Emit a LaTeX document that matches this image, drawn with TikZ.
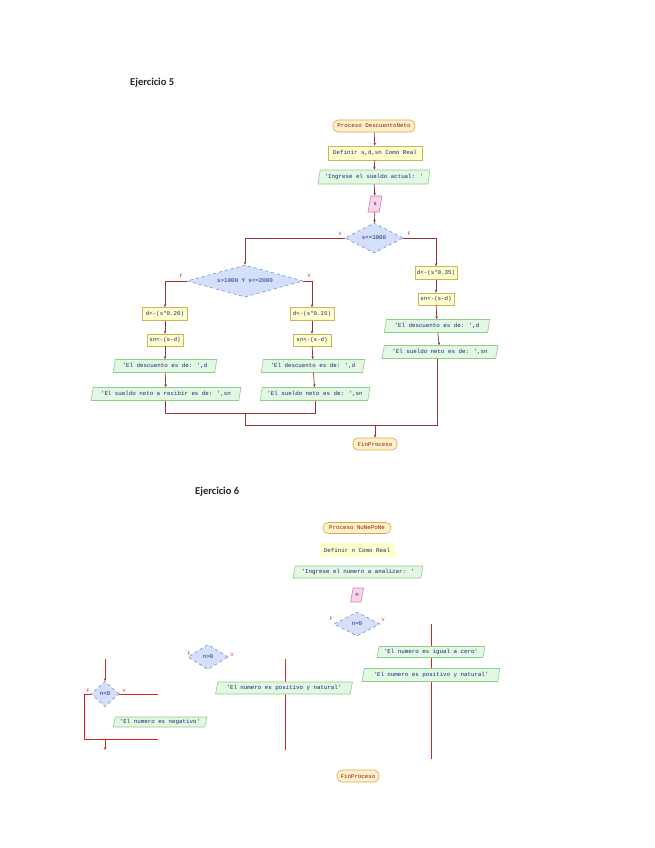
\documentclass[tikz,border=0pt]{standalone}
\usepackage{fontspec}
\setmainfont{Carlito}
\newfontfamily\diagfont{Liberation Mono}
\usetikzlibrary{shapes.geometric,arrows.meta}
\definecolor{termfill}{HTML}{FFF0C8}
\definecolor{termdraw}{HTML}{D9A850}
\definecolor{termtext}{HTML}{8B1A1A}
\definecolor{procfill}{HTML}{FFFFCC}
\definecolor{procdraw}{HTML}{C8B464}
\definecolor{iofill}{HTML}{E2F8E2}
\definecolor{iodraw}{HTML}{8CD08C}
\definecolor{pinkfill}{HTML}{F8D4EA}
\definecolor{pinkdraw}{HTML}{D080B0}
\definecolor{diafill}{HTML}{D4E0FA}
\definecolor{diadraw}{HTML}{7090D0}
\definecolor{lineA}{HTML}{993333}
\definecolor{lineB}{HTML}{DD2222}
\definecolor{txt}{HTML}{1A237E}
\tikzset{
  base/.style={font=\diagfont\fontsize{5.8}{6.5}\selectfont, text=txt, inner sep=1pt, line width=0.6pt},
  term/.style={base, rectangle, rounded corners=5pt, draw=termdraw, fill=termfill, text=termtext},
  proc/.style={base, rectangle, draw=procdraw, fill=procfill},
  io/.style={base, trapezium, trapezium left angle=75, trapezium right angle=105, trapezium stretches=true, draw=iodraw, fill=iofill},
  inp/.style={base, trapezium, trapezium left angle=70, trapezium right angle=110, trapezium stretches=true, draw=pinkdraw, fill=pinkfill},
  dec/.style={base, diamond, draw=diadraw, dashed, fill=diafill, inner sep=0pt},
  lbl/.style={font=\diagfont\fontsize{5}{5}\selectfont, inner sep=0pt},
  conA/.style={draw=lineA, line width=0.7pt},
  arrA/.style={conA, -{Stealth[length=3pt,width=2.5pt]}},
  conB/.style={draw=lineB, line width=0.8pt},
  arrB/.style={conB, -{Stealth[length=3pt,width=2.5pt]}},
  head/.style={font=\fontsize{10.5}{12}\selectfont\bfseries, text=black!85, anchor=west, inner sep=0pt}
}
\begin{document}
\begin{tikzpicture}[x=1pt,y=-1pt]
\useasboundingbox (0,0) rectangle (655,848);
\fill[white] (0,0) rectangle (655,848);

% ---------------- Ejercicio 5 ----------------
\node[head] (h5) at (130,83) {Ejercicio 5};

\node[term, minimum width=82, minimum height=12] (t1) at (374,126) {Proceso DescuentoNeto};
\node[proc, minimum width=94, minimum height=14] (t2) at (375,153) {Definir s,d,sn Como Real};
\node[io, minimum width=112, minimum height=14] (t3) at (374,177) {'Ingrese el sueldo actual: '};
\node[inp, minimum width=14, minimum height=16] (t4) at (375,204) {s};
\node[dec, aspect=2, minimum width=58, minimum height=30] (d1) at (374,238) {s<=1000};
\node[dec, aspect=3.6, minimum width=116, minimum height=32] (d2) at (245,281) {s>1000 Y s<=2000};

\node[proc, minimum width=45, minimum height=13] (a1) at (165,314) {d<-(s*0.20)};
\node[proc, minimum width=36, minimum height=12] (a2) at (165,340) {sn<-(s-d)};
\node[io, minimum width=104, minimum height=13] (a3) at (165,366) {'El descuento es de: ',d};
\node[io, minimum width=150, minimum height=13] (a4) at (166,394) {'El sueldo neto a recibir es de: ',sn};

\node[proc, minimum width=44, minimum height=13] (b1) at (312,314) {d<-(s*0.15)};
\node[proc, minimum width=38, minimum height=12] (b2) at (312,340) {sn<-(s-d)};
\node[io, minimum width=104, minimum height=13] (b3) at (313,366) {'El descuento es de: ',d};
\node[io, minimum width=110, minimum height=13] (b4) at (315,394) {'El sueldo neto es de: ',sn};

\node[proc, minimum width=42, minimum height=13] (c1) at (436,273) {d<-(s*0.35)};
\node[proc, minimum width=36, minimum height=12] (c2) at (436,299) {sn<-(s-d)};
\node[io, minimum width=106, minimum height=13] (c3) at (437,326) {'El descuento es de: ',d};
\node[io, minimum width=116, minimum height=13] (c4) at (440,352) {'El sueldo neto es de: ',sn};

\node[term, minimum width=44, minimum height=12] (fin1) at (375,444) {FinProceso};

\draw[arrA] (t1) -- (t2);
\draw[arrA] (t2) -- (t3);
\draw[arrA] (t3) -- (t4);
\draw[arrA] (t4) -- (d1);
\draw[arrA] (d1.west) -| (d2.north);
\draw[arrA] (d1.east) -| (c1.north);
\draw[arrA] (d2.west) -| (a1.north);
\draw[arrA] (d2.east) -| (b1.north);
\node[lbl, text=lineA] (l1) at (340,234) {V};
\node[lbl, text=lineA] (l2) at (409,234) {F};
\node[lbl, text=lineA] (l3) at (181,276) {F};
\node[lbl, text=lineA] (l4) at (309,276) {V};
\draw[arrA] (a1) -- (a2);
\draw[arrA] (a2) -- (a3);
\draw[arrA] (a3) -- (a4);
\draw[arrA] (b1) -- (b2);
\draw[arrA] (b2) -- (b3);
\draw[arrA] (b3) -- (b4);
\draw[arrA] (c1) -- (c2);
\draw[arrA] (c2) -- (c3);
\draw[arrA] (c3) -- (c4);
\coordinate (j1) at (165,413);
\coordinate (j2) at (245,413);
\coordinate (j3) at (245,425);
\coordinate (j4) at (375,425);
\coordinate (j5) at (437,425);
\draw[conA] (a4.south -| j1) -- (j1) -- (j1 -| b4.south) -- (b4.south);
\draw[conA] (j2) -- (j3) -- (j5) -- (c4.south -| j5);
\draw[arrA] (j4) -- (fin1);

% ---------------- Ejercicio 6 ----------------
\node[head] (h6) at (195,492) {Ejercicio 6};

\node[term, minimum width=68, minimum height=11] (e1) at (357,528) {Proceso NuNePoNe};
\node[proc, draw=none, minimum width=75, minimum height=14] (e2) at (357,550) {Definir n Como Real};
\node[io, minimum width=130, minimum height=12] (e3) at (358,572) {'Ingrese el numero a analizar: '};
\node[inp, minimum width=13, minimum height=14] (e4) at (357,595) {n};
\node[dec, aspect=1.9, minimum width=46, minimum height=24] (f1) at (357,624) {n=0};
\node[lbl, text=lineB] (m1) at (331,619) {F};
\node[lbl, text=lineB] (m2) at (383,620) {V};

\coordinate (v1a) at (431,624);
\coordinate (v1b) at (431,759);
\draw[conB] (v1a) -- (v1b);
\node[io, minimum width=108, minimum height=11] (f2) at (431,652) {'El numero es igual a cero'};
\node[io, minimum width=138, minimum height=13] (f3) at (431,675) {'El numero es positivo y natural'};

\node[dec, aspect=1.6, minimum width=40, minimum height=25] (g1) at (208,657) {n>0};
\node[lbl, text=lineB] (m3) at (189,654) {F};
\node[lbl, text=lineB] (m4) at (232,655) {V};
\coordinate (v2a) at (285,659);
\coordinate (v2b) at (285,750);
\draw[conB] (v2a) -- (v2b);
\node[io, minimum width=137, minimum height=12] (g2) at (284,688) {'El numero es positivo y natural'};

\coordinate (v3a) at (105,659);
\node[dec, aspect=1.1, minimum width=28, minimum height=25] (h1) at (105,694) {n<0};
\node[lbl, text=lineB] (m5) at (88,691) {F};
\node[lbl, text=lineB] (m6) at (124,691) {V};
\coordinate (k1) at (158,694);
\coordinate (k2) at (84,739);
\coordinate (k3) at (158,739);
\coordinate (k4) at (105,739);
\coordinate (k5) at (105,750);
\draw[arrB] (v3a) -- (h1.north);
\draw[conB] (h1.east) -- (k1);
\draw[conB] (h1.west) -| (k2) -- (k3);
\draw[arrB] (k4) -- (k5);
\node[io, minimum width=94, minimum height=10] (h2) at (160,722) {'El numero es negativo'};

\node[term, minimum width=42, minimum height=12] (fin2) at (358,776) {FinProceso};
\end{tikzpicture}
\end{document}
